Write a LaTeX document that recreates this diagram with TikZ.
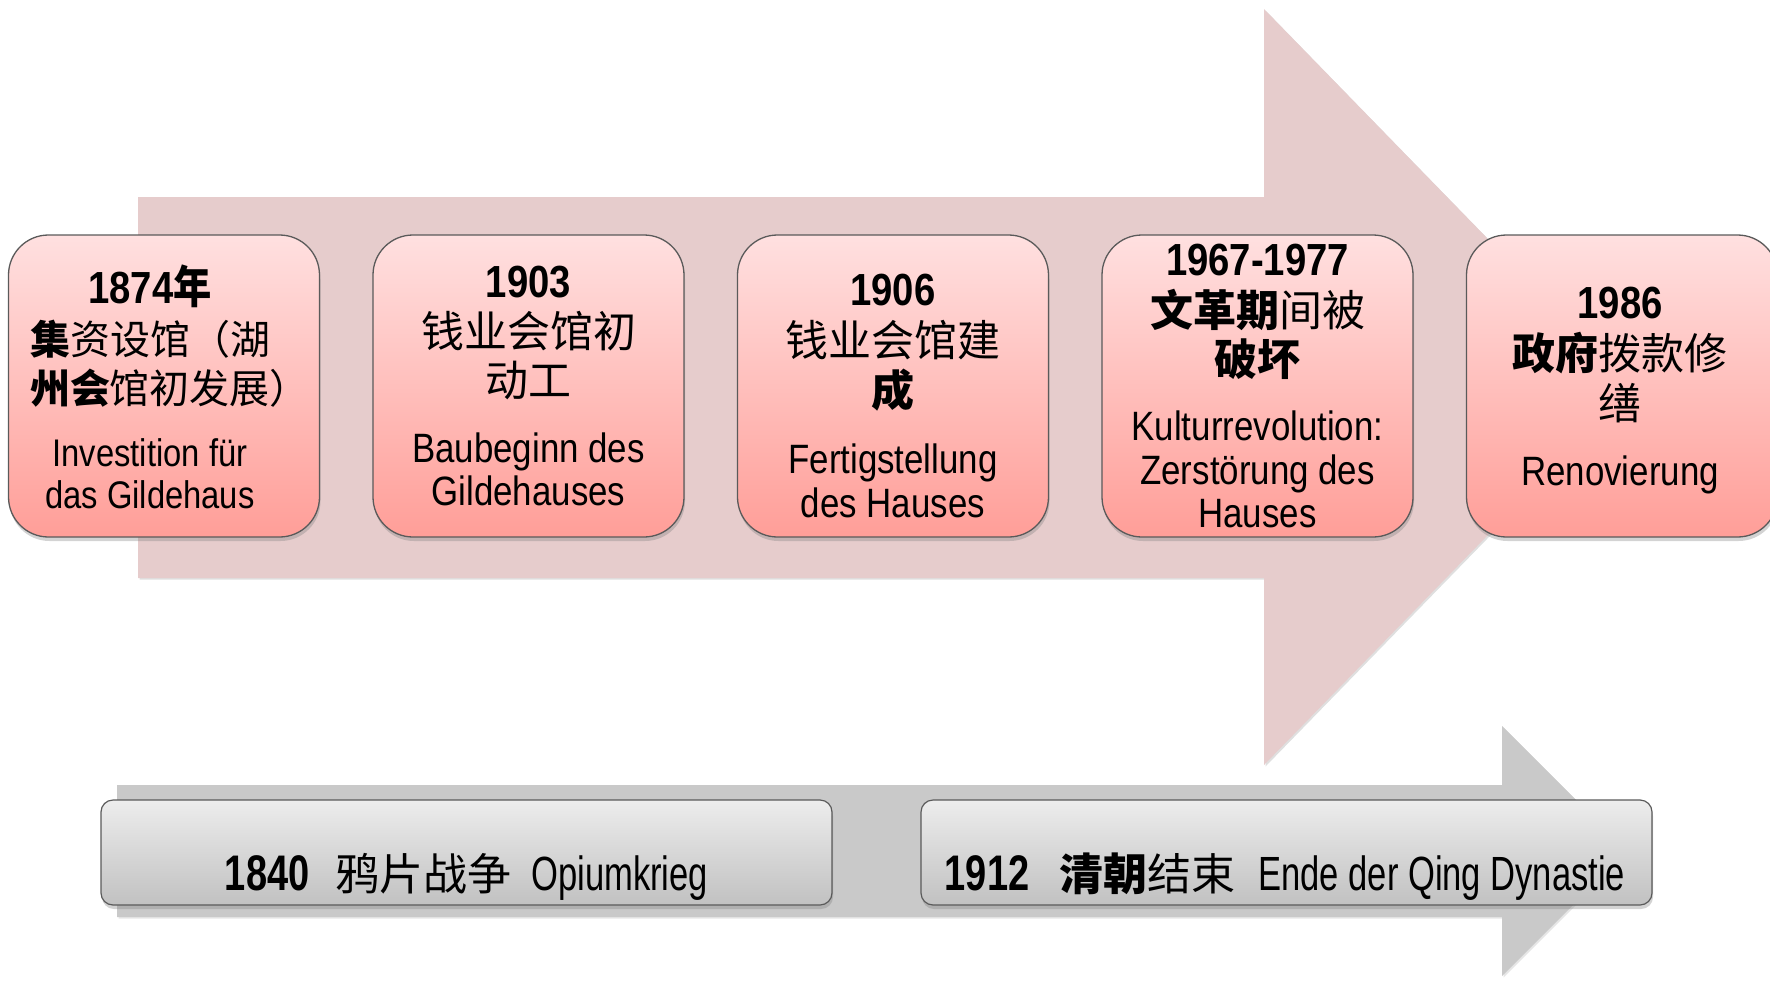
\documentclass[tikz,border=0pt]{standalone}
\usepackage{fontspec}
\setmainfont[FakeStretch=0.85]{Liberation Sans}
\newfontfamily\yearfam[FakeStretch=0.85]{Liberation Sans}
\newfontfamily\gyearfam[FakeStretch=0.76]{Liberation Sans}
\newfontfamily\glatfam[FakeStretch=0.72]{Liberation Sans}
\newfontfamily\cjkfam{Noto Sans CJK SC}
\newfontfamily\cjkyearfam[FakeStretch=0.85]{Noto Sans CJK SC}
\usetikzlibrary{shadows}
\definecolor{arrowpink}{RGB}{230,204,204}
\definecolor{arrowgray}{RGB}{201,201,201}
\definecolor{boxtop}{RGB}{255,224,224}
\definecolor{boxbot}{RGB}{255,158,152}
\definecolor{gtop}{RGB}{237,237,237}
\definecolor{gbot}{RGB}{193,193,193}
\definecolor{edgegray}{RGB}{90,90,90}
\newcommand{\tlyear}[1]{{\fontsize{45}{44}\selectfont\yearfam\bfseries #1}}
\newcommand{\tlcjk}[1]{{\fontsize{43}{44}\selectfont\cjkfam #1}}
\newcommand{\tlcjksmall}[1]{{\fontsize{40}{42}\selectfont\cjkfam #1}}
\newcommand{\tlgyear}[1]{{\fontsize{50}{50}\selectfont\gyearfam\bfseries #1}}
\newcommand{\tlgcjk}[1]{{\fontsize{44}{50}\selectfont\cjkfam #1}}
\newcommand{\tlglat}[1]{{\fontsize{48}{50}\selectfont\glatfam #1}}
\begin{document}
\begin{tikzpicture}[x=1pt,y=-1pt,
  pinkbox/.style={draw=edgegray, line width=1.3pt, rounded corners=40pt,
    minimum width=311pt, minimum height=302pt, inner sep=0pt,
    top color=boxtop, bottom color=boxbot,
    drop shadow={shadow xshift=1pt, shadow yshift=-4pt, opacity=0.35}},
  graybox/.style={draw=edgegray, line width=1.2pt, rounded corners=12pt,
    minimum width=731pt, minimum height=105pt, inner sep=0pt,
    top color=gtop, bottom color=gbot,
    drop shadow={shadow xshift=1pt, shadow yshift=-4pt, opacity=0.35}},
  boxtext/.style={align=center, inner sep=0pt, font=\fontsize{41}{43.5}\selectfont},
  boxtextsmall/.style={align=center, inner sep=0pt, font=\fontsize{38.5}{42}\selectfont},
  graytext/.style={anchor=base, inner sep=0pt}
]
\useasboundingbox (0,0) rectangle (1770,983);

% big pink arrow
\fill[arrowpink, drop shadow={shadow xshift=1.5pt, shadow yshift=-1.5pt, opacity=0.25}]
  (138,197) -- (1264,197) -- (1264,9) -- (1632,387) -- (1264,765) -- (1264,578) -- (138,578) -- cycle;

% gray arrow
\fill[arrowgray, drop shadow={shadow xshift=1.5pt, shadow yshift=-1.5pt, opacity=0.2}]
  (117,785) -- (1502,785) -- (1502,726) -- (1627,851) -- (1502,976) -- (1502,917) -- (117,917) -- cycle;

% pink boxes
\node[pinkbox] (b1) at (164,386) {};
\node[pinkbox] (b2) at (528.5,386) {};
\node[pinkbox] (b3) at (893,386) {};
\node[pinkbox] (b4) at (1257.5,386) {};
\node[pinkbox] (b5) at (1622,386) {};

\node[boxtextsmall] (t1) at (150,387) {\tlyear{1874{\cjkyearfam 年}}\\[9pt]
  \tlcjksmall{{\bfseries 集}资设馆（湖}\\[6.5pt]
  \hspace*{40pt}\tlcjksmall{{\bfseries 州会}馆初发展）}\\[21pt]
  Investition für\\ das Gildehaus};
\node[boxtext] (t2) at (528.5,386) {\tlyear{1903}\\[7pt]
  \tlcjk{钱业会馆初}\\[5.5pt]
  \tlcjk{动工}\\[22pt]
  Baubeginn des\\ Gildehauses};
\node[boxtext] (t3) at (893,396) {\tlyear{1906}\\[7pt]
  \tlcjk{钱业会馆建}\\[6.5pt]
  \tlcjk{{\bfseries 成}}\\[24pt]
  Fertigstellung\\ des Hauses};
\node[boxtext] (t4) at (1257.5,386) {\tlyear{1967-1977}\\[7pt]
  \tlcjk{{\bfseries 文革期}间被}\\[5.5pt]
  \tlcjk{{\bfseries 破坏}}\\[22pt]
  Kulturrevolution:\\ Zerstörung des\\ Hauses};
\node[boxtext] (t5) at (1620,391) {\tlyear{1986}\\[7pt]
  \tlcjk{{\bfseries 政府}拨款修}\\[6.5pt]
  \tlcjk{缮}\\[23pt]
  Renovierung};

% gray boxes
\node[graybox] (g1) at (466.5,852.5) {};
\node[graybox] (g2) at (1286.5,852.5) {};
\node[graytext] (gt1) at (466.5,890) {\tlgyear{1840}\hspace{26pt}\tlgcjk{鸦片战争}\hspace{20pt}\tlglat{Opiumkrieg}};
\node[graytext] (gt2) at (1285,890) {\tlgyear{1912}\hspace{30pt}\tlgcjk{{\bfseries 清朝}结束}\hspace{23pt}\tlglat{Ende der Qing Dynastie}};
\end{tikzpicture}
\end{document}
